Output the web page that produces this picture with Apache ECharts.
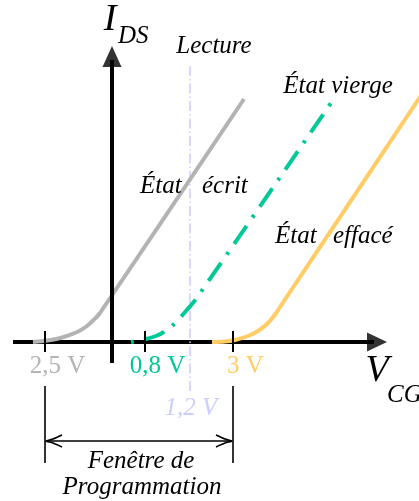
<!DOCTYPE html>
<html><head><meta charset="utf-8">
<script src="https://cdn.jsdelivr.net/npm/echarts@6/dist/echarts.min.js"></script>
<style>html,body{margin:0;padding:0;background:#fff}#c{width:419px;height:501px}</style>
</head><body><div id="c"></div>
<script>
// Schematic units: origin at the crossing of the two axes
const greyCurve   = [[-79,0],[-70,0.7],[-60,2.2],[-50,4.5],[-40,7.8],[-32,11.5],[-25,16],[-19,21.5],[-12,29],[132,243]];
const greenCurve  = [[19,0],[34,3],[44,6],[52,10],[60,16],[67,23],[74,31],[84,43],[221,242]];
const orangeCurve = [[100,0],[113,0.5],[123,2],[136,6],[146,11],[155,18],[162,26],[168,35],[318,260]];
const readX = 78;                       // "Lecture" voltage (1,2 V)
const readLabel = '1,2 V';
const tickX = [-67, 33, 121];
const tickLabels = ['2,5 V', '0,8 V', '3 V'];
const tickColors = ['#b3b3b3', '#00c896', '#ffcc66'];
const windowEnds = [-67, 121];          // Fenêtre de programmation
const xAxisSpan = [-99, 262];
const yAxisSpan = [-21, 282];

const GREY = '#b3b3b3', GREEN = '#00c896', ORANGE = '#ffcc66', LAV = '#ccccff';
const SERIF = '"Liberation Serif"';

function seg(data, color, width, z, extra) {
  return Object.assign({
    type: 'line', data: data, symbol: 'none', silent: true, z: z,
    lineStyle: { color: color, width: width, cap: 'butt' }
  }, extra || {});
}

const series = [];
series.push(seg([[xAxisSpan[0],0],[xAxisSpan[1],0]], '#000', 4, 1));
series.push(seg([[readX,276],[readX,-50]], LAV, 1.5, 1, {lineStyle:{color:LAV,width:1.5,type:[10,3,1.5,3]}}));
series.push(seg(greyCurve, GREY, 4, 2, {smooth: 0.3}));
series.push(seg(greenCurve, GREEN, 4, 2, {smooth: 0.3, lineStyle:{color:GREEN,width:4,cap:'butt',type:[22,10,3,10],dashOffset:32}}));
series.push(seg(orangeCurve, ORANGE, 4, 2, {smooth: 0.3}));
series.push(seg([[0,yAxisSpan[0]],[0,yAxisSpan[1]]], '#000', 4, 3));
tickX.forEach(x => series.push(seg([[x,11],[x,-10]], '#000', 2, 3)));
windowEnds.forEach(x => series.push(seg([[x,-44],[x,-121]], '#000', 1.6, 3)));
series.push(seg([[windowEnds[0]+1,-99],[windowEnds[1]-1,-99]], '#000', 1.6, 3));
const L = windowEnds[0]+1, R = windowEnds[1]-1;
series.push(seg([[L+16,-93],[L+7,-97],[L,-99],[L+7,-101],[L+16,-105]], '#000', 1.6, 3, {smooth:0.3}));
series.push(seg([[R-16,-93],[R-7,-97],[R,-99],[R-7,-101],[R-16,-105]], '#000', 1.6, 3, {smooth:0.3}));
series.push({type:'scatter', silent:true, z:4, symbol:'triangle', symbolSize:[19,20], symbolRotate:-90,
  itemStyle:{color:'#000'}, data:[[xAxisSpan[1]+3,0]]});
series.push({type:'scatter', silent:true, z:4, symbol:'triangle', symbolSize:[19,21],
  itemStyle:{color:'#000'}, data:[[0,yAxisSpan[1]+3.5]]});

// text annotations (anchored in data units)
function note(x, y, text, o) {
  return Object.assign({x: x, y: y, text: text, size: 25, italic: true, align: 'center', color: '#000'}, o || {});
}
const notes = [
  note(-2, 321.5, 'I', {size: 38}),
  note(6, 306, 'DS', {align: 'left'}),
  note(102, 296, 'Lecture'),
  note(226, 256, 'État vierge'),
  note(28, 156, 'État', {align: 'left'}),
  note(90, 156, 'écrit', {align: 'left'}),
  note(163, 106, 'État', {align: 'left'}),
  note(221, 106, 'effacé', {align: 'left'}),
  note(readX + 1, -66, readLabel, {color: LAV}),
  note(265, -29, 'V', {size: 38}),
  note(275, -53, 'CG', {align: 'left'}),
  note(29, -119, 'Fenêtre de'),
  note(30, -145, 'Programmation')
];
tickX.forEach((x, i) => notes.push(note(x + 12.5, -24, tickLabels[i], {italic: false, color: tickColors[i]})));

const chart = echarts.init(document.getElementById('c'));
chart.setOption({
  animation: false,
  backgroundColor: '#fff',
  grid: {left: 0, right: 0, top: 0, bottom: 0},
  xAxis: {type: 'value', min: -112, max: 307, show: false},
  yAxis: {type: 'value', min: -159, max: 342, show: false},
  series: series
});
chart.setOption({
  graphic: notes.map(n => {
    const p = chart.convertToPixel({gridIndex: 0}, [n.x, n.y]);
    return {
      type: 'text', x: p[0], y: p[1], z: 100, silent: true,
      style: {
        text: n.text, fill: n.color,
        font: (n.italic ? 'italic ' : '') + n.size + 'px ' + SERIF,
        align: n.align, verticalAlign: 'middle'
      }
    };
  })
});
</script></body></html>
